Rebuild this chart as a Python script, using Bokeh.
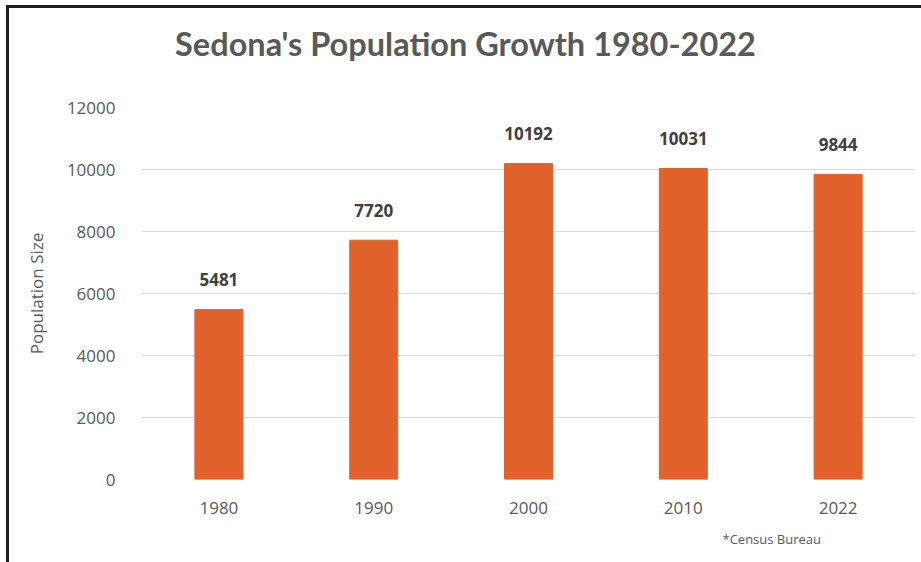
from bokeh.plotting import figure
from bokeh.layouts import column
from bokeh.models import ColumnDataSource, Range1d, FixedTicker, Title
from bokeh.core.properties import value
from bokeh.embed import file_html
from bokeh.resources import INLINE

years = ["1980", "1990", "2000", "2010", "2022"]
population = [5481, 7720, 10192, 10031, 9844]
yticks = [0, 2000, 4000, 6000, 8000, 10000, 12000]
title_text = "Sedona's Population Growth 1980-2022"
y_label = "Population Size"
note_text = "*Census Bureau"

W = 912
TH = 70          # height of the title strip
H = 554 - TH     # height of the chart below it
FL, FR = 141, 915  # page x of the frame edges (column aligns both frames)

# ---- title strip (its own small figure) ----
t = figure(width=W, height=TH, x_range=Range1d(FL, FR), y_range=Range1d(0, TH),
           x_axis_type=None, y_axis_type=None, output_backend="svg",
           toolbar_location=None, min_border=0)
t.outline_line_color = None
t.grid.grid_line_color = None
t.text(x=[465], y=[TH - 35], text=[title_text],
       text_align="center", text_baseline="middle",
       text_font=value("Lato"), text_font_style="bold",
       text_font_size="32.5px", text_color="#595959")

# ---- chart ----
src = ColumnDataSource(dict(
    x=years, top=population, lbl=[str(v) for v in population]))

p = figure(x_range=years, y_range=Range1d(0, 12000), width=W, height=H,
           output_backend="svg", toolbar_location=None,
           min_border_left=132, min_border_right=6, min_border_top=99 - TH,
           min_border_bottom=83)
p.outline_line_color = None
p.background_fill_color = "white"
p.border_fill_color = "white"

p.vbar(x="x", top="top", width=0.31, source=src, color="#E1622A")
p.text(x="x", y="top", text="lbl", source=src, y_offset=-30,
       text_align="center", text_baseline="middle",
       text_font=value("Open Sans"), text_font_style="bold",
       text_font_size="17px", text_color="#404040")

p.xgrid.grid_line_color = None
p.ygrid.grid_line_color = "#d9d9d9"
p.ygrid.grid_line_width = 1
p.yaxis.ticker = FixedTicker(ticks=yticks)

for ax in (p.xaxis[0], p.yaxis[0]):
    ax.axis_line_color = None
    ax.major_tick_line_color = None
    ax.minor_tick_line_color = None
    ax.major_tick_out = 0
    ax.major_tick_in = 0
    ax.minor_tick_out = 0
    ax.major_label_text_font = "Open Sans"
    ax.major_label_text_font_size = "17px"
    ax.major_label_text_color = "#595959"

p.yaxis.major_label_standoff = 26
p.xaxis.major_label_standoff = 22
p.yaxis.axis_label = y_label
p.yaxis.axis_label_text_font = "Open Sans"
p.yaxis.axis_label_text_font_style = "normal"
p.yaxis.axis_label_text_font_size = "17px"
p.yaxis.axis_label_text_color = "#595959"
p.yaxis.axis_label_standoff = 16

p.add_layout(Title(text=note_text, align="left", offset=581, standoff=22,
                   text_font="Open Sans", text_font_style="normal",
                   text_font_size="13px", text_color="#595959"), "below")

layout = column(t, p, spacing=0,
                styles={"margin-left": "6px", "margin-top": "5px",
                        "border-left": "3px solid #1e1e1e",
                        "border-top": "3px solid #1e1e1e"})

open("out.html", "w").write(file_html(layout, INLINE))
